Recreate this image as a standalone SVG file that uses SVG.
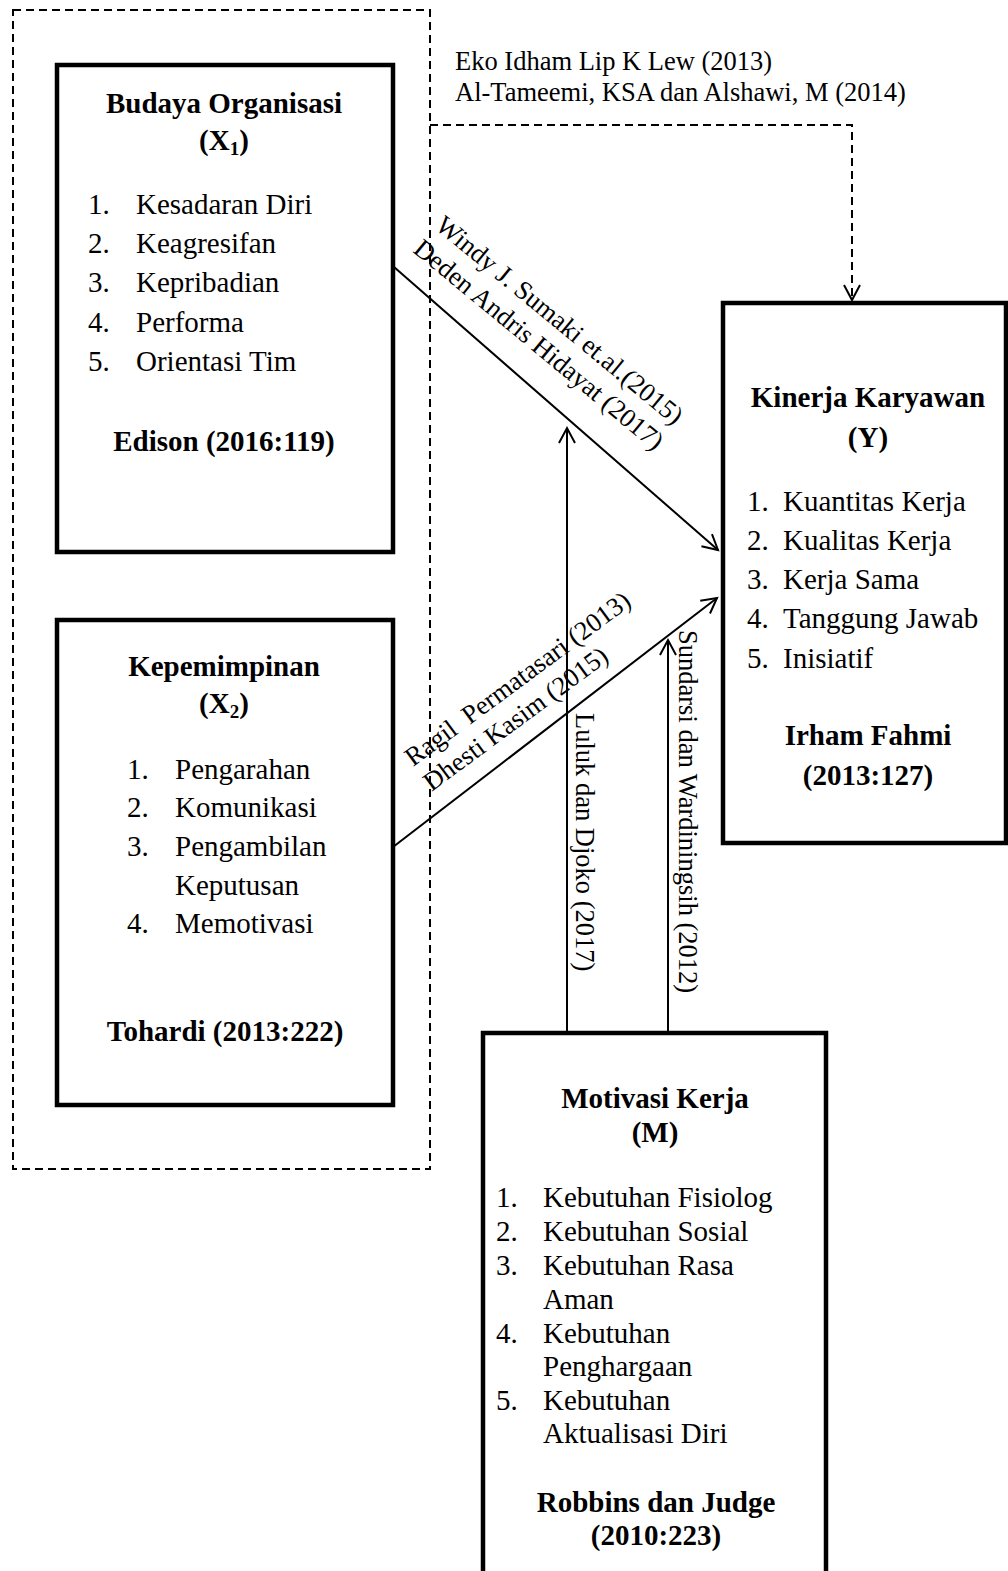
<svg xmlns="http://www.w3.org/2000/svg" width="1008" height="1571" viewBox="0 0 1008 1571">
<style>
text{font-family:"Liberation Serif","Times New Roman",serif;fill:#000}
.t{font-size:29px}
.b{font-size:29px;font-weight:bold}
.lab{font-size:26.5px}
.c{text-anchor:middle}
.box{fill:none;stroke:#000;stroke-width:4.5}
.dash{fill:none;stroke:#000;stroke-width:2;stroke-dasharray:8 5}
.arr{fill:none;stroke:#000;stroke-width:2}
</style>
<defs>
<marker id="ah" markerUnits="userSpaceOnUse" markerWidth="30" markerHeight="30" viewBox="-20 -15 30 30" refX="0" refY="0" orient="auto">
<polyline points="-15,-8 0,0 -15,8" fill="none" stroke="#000" stroke-width="2" stroke-dasharray="none"/>
</marker>
</defs>
<g id="group-x">
<rect x="13" y="10" width="417" height="1159" class="dash"/>
</g>
<g id="budaya">
<rect x="57" y="65" width="336" height="487" class="box"/>
<text class="b c" x="224" y="113">Budaya Organisasi</text>
<text class="b c" x="224" y="150">(X<tspan font-size="19" dy="5">1</tspan><tspan dy="-5">)</tspan></text>
<text class="t" x="88" y="214">1.</text><text class="t" x="136" y="214">Kesadaran Diri</text>
<text class="t" x="88" y="253">2.</text><text class="t" x="136" y="253">Keagresifan</text>
<text class="t" x="88" y="292">3.</text><text class="t" x="136" y="292">Kepribadian</text>
<text class="t" x="88" y="332">4.</text><text class="t" x="136" y="332">Performa</text>
<text class="t" x="88" y="371">5.</text><text class="t" x="136" y="371">Orientasi Tim</text>
<text class="b c" x="224" y="451">Edison (2016:119)</text>
</g>
<g id="kepemimpinan">
<rect x="57" y="620" width="336" height="485" class="box"/>
<text class="b c" x="224" y="676">Kepemimpinan</text>
<text class="b c" x="224" y="713">(X<tspan font-size="19" dy="5">2</tspan><tspan dy="-5">)</tspan></text>
<text class="t" x="127" y="779">1.</text><text class="t" x="175" y="779">Pengarahan</text>
<text class="t" x="127" y="817">2.</text><text class="t" x="175" y="817">Komunikasi</text>
<text class="t" x="127" y="856">3.</text><text class="t" x="175" y="856">Pengambilan</text>
<text class="t" x="175" y="895">Keputusan</text>
<text class="t" x="127" y="933">4.</text><text class="t" x="175" y="933">Memotivasi</text>
<text class="b c" x="225" y="1041">Tohardi (2013:222)</text>
</g>
<g id="kinerja">
<rect x="723" y="303" width="283" height="540" class="box"/>
<text class="b c" x="868" y="407">Kinerja Karyawan</text>
<text class="b c" x="868" y="447">(Y)</text>
<text class="t" x="747" y="511">1.</text><text class="t" x="783" y="511">Kuantitas Kerja</text>
<text class="t" x="747" y="550">2.</text><text class="t" x="783" y="550">Kualitas Kerja</text>
<text class="t" x="747" y="589">3.</text><text class="t" x="783" y="589">Kerja Sama</text>
<text class="t" x="747" y="628">4.</text><text class="t" x="783" y="628">Tanggung Jawab</text>
<text class="t" x="747" y="668">5.</text><text class="t" x="783" y="668">Inisiatif</text>
<text class="b c" x="868" y="745">Irham Fahmi</text>
<text class="b c" x="868" y="785">(2013:127)</text>
</g>
<g id="motivasi">
<rect x="483" y="1033" width="343" height="560" class="box"/>
<text class="b c" x="655" y="1108">Motivasi Kerja</text>
<text class="b c" x="655" y="1142">(M)</text>
<text class="t" x="496" y="1207">1.</text><text class="t" x="543" y="1207">Kebutuhan Fisiolog</text>
<text class="t" x="496" y="1241">2.</text><text class="t" x="543" y="1241">Kebutuhan Sosial</text>
<text class="t" x="496" y="1275">3.</text><text class="t" x="543" y="1275">Kebutuhan Rasa</text>
<text class="t" x="543" y="1309">Aman</text>
<text class="t" x="496" y="1343">4.</text><text class="t" x="543" y="1343">Kebutuhan</text>
<text class="t" x="543" y="1376">Penghargaan</text>
<text class="t" x="496" y="1410">5.</text><text class="t" x="543" y="1410">Kebutuhan</text>
<text class="t" x="543" y="1443">Aktualisasi Diri</text>
<text class="b c" x="656" y="1512">Robbins dan Judge</text>
<text class="b c" x="656" y="1545">(2010:223)</text>
</g>
<g id="connectors">
<polyline points="430,125 852,125 852,300" class="dash" marker-end="url(#ah)"/>
<line x1="394" y1="267" x2="718" y2="550" class="arr" marker-end="url(#ah)"/>
<line x1="393" y1="847" x2="717" y2="598" class="arr" marker-end="url(#ah)"/>
<line x1="567" y1="1033" x2="567" y2="428" class="arr" marker-end="url(#ah)"/>
<line x1="668" y1="1033" x2="668" y2="640" class="arr" marker-end="url(#ah)"/>
<text class="lab" x="455" y="70">Eko Idham Lip K Lew (2013)</text>
<text class="lab" x="455" y="101">Al-Tameemi, KSA dan Alshawi, M (2014)</text>
<text class="lab" transform="translate(434,228) rotate(39.5)"><tspan x="0" y="0">Windy J. Sumaki et.al.(2015)</tspan><tspan x="-2" y="32">Deden Andris Hidayat (2017)</tspan></text>
<text class="lab" transform="translate(413,767) rotate(-36.5)"><tspan x="0" y="0" xml:space="preserve">Ragil  Permatasari (2013)</tspan><tspan x="0" y="31">Dhesti Kasim (2015)</tspan></text>
<text class="lab" transform="translate(576,713) rotate(90)">Luluk dan Djoko (2017)</text>
<text class="lab" transform="translate(679,630) rotate(90)">Sundarsi dan Wardiningsih (2012)</text>
</g>
</svg>
